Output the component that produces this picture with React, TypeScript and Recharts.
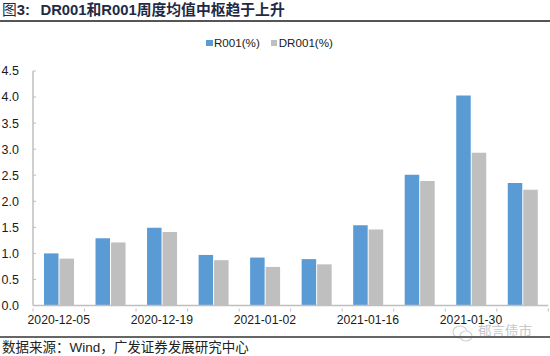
import React from 'react';
import { BarChart, Bar, XAxis, YAxis, Legend } from 'recharts';

const CATEGORIES = ['2020-12-05', '2020-12-12', '2020-12-19', '2020-12-26', '2021-01-02', '2021-01-09', '2021-01-16', '2021-01-23', '2021-01-30', '2021-02-06'];
const R001 = [1.0, 1.29, 1.49, 0.97, 0.92, 0.89, 1.54, 2.51, 4.03, 2.35];
const DR001 = [0.9, 1.21, 1.41, 0.87, 0.74, 0.79, 1.46, 2.39, 2.93, 2.22];
const Y_TICKS = [0, 0.5, 1, 1.5, 2, 2.5, 3, 3.5, 4, 4.5];

const data = CATEGORIES.map((name, i) => ({ name, r: R001[i], dr: DR001[i] }));

const FONT = '"Liberation Sans", "Noto Sans CJK SC", sans-serif';
const AXIS_COLOR = '#BFBFBF';
const PLOT_LEFT = 33;
const PLOT_RIGHT = 548.3;
const BAND = (PLOT_RIGHT - PLOT_LEFT) / CATEGORIES.length;
const TICK_MARGIN = 7;

// x ticks sit on the category boundaries and point inward, labels on every other category
function XTick({ x, y, payload, index }: any) {
  const axisY = y - TICK_MARGIN;
  const left = x - BAND / 2;
  return (
    <g>
      <line x1={left} x2={left} y1={axisY} y2={axisY - 3} stroke={AXIS_COLOR} />
      {index === CATEGORIES.length - 1 && (
        <line x1={left + BAND} x2={left + BAND} y1={axisY} y2={axisY - 3} stroke={AXIS_COLOR} />
      )}
      {index % 2 === 0 && (
        <text x={x} y={y + 5} textAnchor="middle" fontSize={12.2} fill="#1a1a1a" fontFamily={FONT}>
          {payload.value}
        </text>
      )}
    </g>
  );
}

function LegendContent({ payload }: any) {
  return (
    <div style={{ display: 'flex', fontSize: 11.6, lineHeight: '14px', color: '#1a1a1a', fontFamily: FONT }}>
      {(payload || []).map((item: any) => (
        <div key={item.value} style={{ display: 'flex', alignItems: 'center', marginRight: 11 }}>
          <span style={{ width: 6.5, height: 6.5, background: item.color, marginRight: 1.5 }} />
          <span>{item.value}</span>
        </div>
      ))}
    </div>
  );
}

export default function App() {
  return (
    <div style={{ position: 'absolute', left: 0, top: 0, width: 550, height: 356, background: '#fff', overflow: 'hidden', fontFamily: FONT }}>
      <div style={{ position: 'absolute', left: 2, top: 0, fontSize: 14.8, lineHeight: '20px', color: '#1f2a44', whiteSpace: 'nowrap' }}>
        图<b>3:</b>
      </div>
      <div style={{ position: 'absolute', left: 40.5, top: 0, fontSize: 14.8, lineHeight: '20px', fontWeight: 700, color: '#1f2a44', whiteSpace: 'nowrap' }}>
        DR001和R001周度均值中枢趋于上升
      </div>
      <div style={{ position: 'absolute', left: 0, top: 20, width: 550, height: 1.5, background: '#555' }} />

      <BarChart
        width={550}
        height={336}
        data={data}
        barSize={14.5}
        barGap={1}
        margin={{ top: 71, right: 550 - PLOT_RIGHT, bottom: 0, left: 0 }}
        style={{ position: 'absolute', left: 0, top: 0 }}
      >
        <XAxis
          dataKey="name"
          interval={0}
          height={30.5}
          tickLine={false}
          tickMargin={TICK_MARGIN}
          axisLine={{ stroke: AXIS_COLOR, strokeWidth: 1.5 }}
          tick={<XTick />}
        />
        <YAxis
          domain={[0, 4.5]}
          ticks={Y_TICKS}
          interval={0}
          width={PLOT_LEFT}
          tickFormatter={(v: number) => v.toFixed(1)}
          tickSize={-3}
          tickMargin={17}
          tickLine={{ stroke: AXIS_COLOR }}
          axisLine={{ stroke: AXIS_COLOR, strokeWidth: 1.5 }}
          tick={{ fontSize: 12.5, fill: '#1a1a1a', fontFamily: FONT }}
        />
        <Legend
          verticalAlign="middle"
          align="center"
          itemSorter={null}
          content={<LegendContent />}
          wrapperStyle={{ top: 36, left: 206, width: 160, margin: 0 }}
        />
        <Bar dataKey="r" name="R001(%)" fill="#5B9BD5" isAnimationActive={false} />
        <Bar dataKey="dr" name="DR001(%)" fill="#BFBFBF" isAnimationActive={false} />
      </BarChart>

      <svg width={22} height={20} style={{ position: 'absolute', left: 452, top: 324 }}>
        <ellipse cx={8} cy={8} rx={7} ry={6} fill="#fff" stroke="#cfd3d6" strokeWidth={1.2} />
        <ellipse cx={14} cy={12} rx={6} ry={5} fill="#fff" stroke="#cfd3d6" strokeWidth={1.2} />
      </svg>
      <div style={{ position: 'absolute', left: 478, top: 325, fontSize: 13.5, lineHeight: '14px', color: '#c4c8cc', whiteSpace: 'nowrap' }}>
        郁言债市
      </div>
      <div style={{ position: 'absolute', left: 0, top: 336, width: 550, height: 1.5, background: '#666' }} />
      <div style={{ position: 'absolute', left: 2, top: 339, fontSize: 13.5, lineHeight: '17px', color: '#222', whiteSpace: 'nowrap' }}>
        数据来源{'\uFF1A'}Wind{'\uFF0C'}广发证券发展研究中心
      </div>
    </div>
  );
}
